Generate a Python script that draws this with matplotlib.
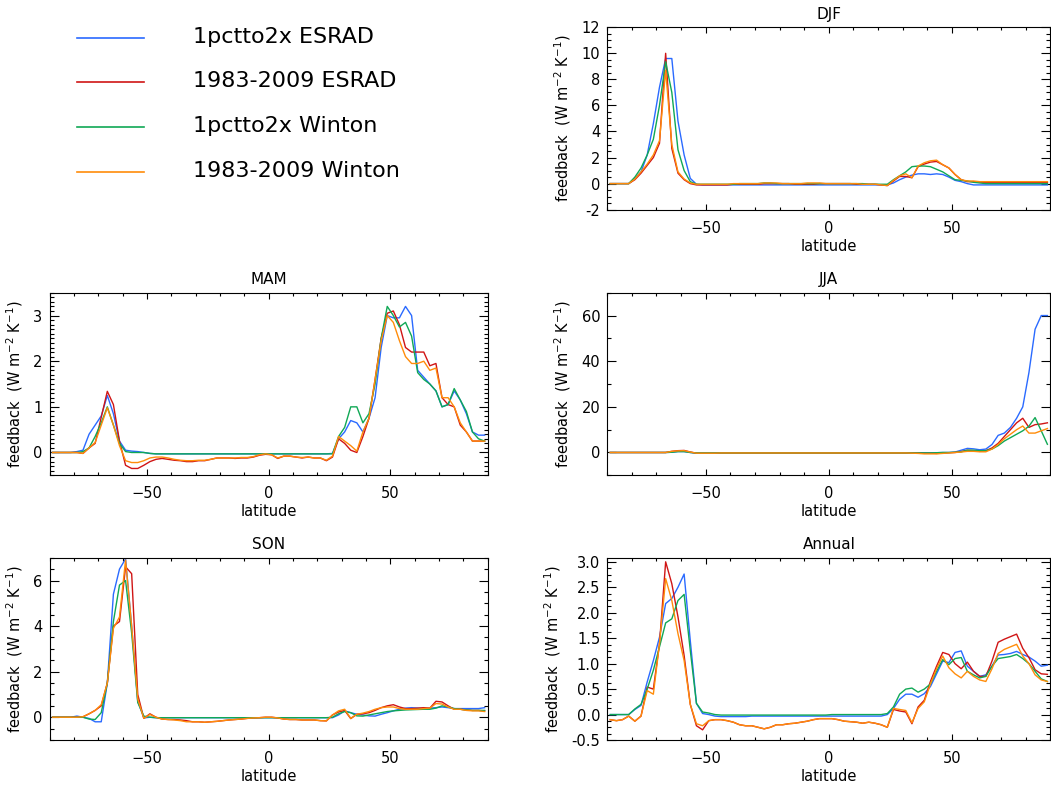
import numpy as np
import matplotlib
matplotlib.use('Agg')
import matplotlib.pyplot as plt
from matplotlib.lines import Line2D
from matplotlib.ticker import MultipleLocator, FormatStrFormatter

plt.rcParams['font.family'] = ['DejaVu Sans']
plt.rcParams['mathtext.default'] = 'regular'

# latitude grid (2.5 deg, cell centres)
lat = np.arange(-88.75, 90.0, 2.5)

labels = ['1pctto2x ESRAD', '1983-2009 ESRAD', '1pctto2x Winton', '1983-2009 Winton']
colors = ['#2a6aff', '#d01515', '#10a855', '#ff8c0a']

# ---- DJF
djf_esrad_1pct = [0, 0, 0, 0, 0.4, 0.9, 2.2, 4.6, 7.4, 9.6, 9.6, 4.8,
                  2.2, 0.4, -0.05, -0.1, -0.1, -0.1, -0.1, -0.1, -0.1, -0.1, -0.1, -0.1,
                  -0.1, -0.1, -0.1, -0.1, -0.1, -0.1, -0.1, -0.1, -0.1, -0.1, -0.1, -0.1,
                  -0.1, -0.1, -0.1, -0.1, -0.1, -0.1, -0.1, -0.1, -0.1, -0.1, 0.05, 0.3,
                  0.5, 0.65, 0.75, 0.75, 0.7, 0.75, 0.7, 0.5, 0.25, 0.15, 0.0, -0.1,
                  -0.1, -0.1, -0.1, -0.1, -0.1, -0.1, -0.1, -0.1, -0.1, -0.1, -0.1, -0.1]
djf_esrad_obs = [0, 0, 0, 0, 0.3, 0.8, 1.4, 2.0, 3.1, 10.0, 2.7, 0.8,
                 0.3, 0.0, -0.1, -0.1, -0.1, -0.1, -0.1, -0.1, -0.05, -0.05, -0.05, -0.05,
                 -0.05, 0.0, 0.0, 0.0, 0.0, 0.0, -0.05, -0.05, -0.05, -0.05, 0.0, 0.0,
                 0.0, 0.0, 0.0, 0.0, -0.05, -0.05, -0.05, -0.05, -0.1, -0.15, 0.2, 0.55,
                 0.55, 0.45, 1.3, 1.5, 1.65, 1.7, 1.45, 1.2, 0.7, 0.3, 0.15, 0.15,
                 0.1, 0.1, 0.1, 0.1, 0.1, 0.1, 0.1, 0.1, 0.1, 0.1, 0.1, 0.1]
djf_winton_1pct = [0, 0, 0, 0, 0.5, 1.2, 2.2, 3.4, 6.0, 9.35, 7.0, 2.6,
                   1.0, 0.15, -0.05, -0.05, -0.05, -0.05, -0.05, -0.05, -0.05, 0.0, 0.0, 0.0,
                   0.0, 0.05, 0.05, 0.0, 0.0, 0.0, 0.0, 0.0, 0.0, 0.0, 0.0, 0.0,
                   0.0, 0.0, 0.0, 0.0, 0.0, 0.0, -0.05, -0.05, -0.05, -0.05, 0.3, 0.6,
                   0.9, 1.3, 1.35, 1.35, 1.3, 1.1, 0.9, 0.6, 0.3, 0.25, 0.2, 0.1,
                   0.05, 0.0, 0.0, 0.0, 0.0, 0.0, 0.0, 0.0, 0.0, 0.0, 0.0, 0.0]
djf_winton_obs = [0, 0, 0, 0, 0.35, 0.9, 1.5, 2.2, 3.3, 8.7, 3.0, 0.9,
                  0.35, 0.05, -0.05, -0.05, -0.05, -0.05, -0.05, -0.05, 0.0, 0.0, 0.0, 0.0,
                  0.0, 0.05, 0.05, 0.05, 0.0, 0.0, 0.0, 0.0, 0.05, 0.05, 0.05, 0.0,
                  0.0, 0.0, 0.0, 0.0, 0.0, -0.05, -0.05, -0.05, -0.1, -0.15, 0.25, 0.6,
                  0.75, 0.45, 1.35, 1.6, 1.75, 1.8, 1.45, 1.2, 0.7, 0.3, 0.2, 0.2,
                  0.15, 0.15, 0.15, 0.15, 0.15, 0.15, 0.15, 0.15, 0.15, 0.15, 0.15, 0.15]

# ---- MAM
mam_esrad_1pct = [0, 0, 0, 0, 0.02, 0.05, 0.4, 0.6, 0.8, 1.25, 0.85, 0.25,
                  0.05, 0.03, 0.02, 0.0, -0.02, -0.03, -0.03, -0.03, -0.03, -0.03, -0.03, -0.03,
                  -0.03, -0.03, -0.03, -0.03, -0.03, -0.03, -0.03, -0.03, -0.03, -0.03, -0.03, -0.03,
                  -0.03, -0.03, -0.03, -0.03, -0.03, -0.03, -0.03, -0.03, -0.03, -0.03, -0.02, 0.3,
                  0.45, 0.7, 0.65, 0.45, 0.75, 1.2, 2.3, 3.0, 2.95, 2.95, 3.2, 3.0,
                  1.8, 1.65, 1.5, 1.35, 1.0, 1.05, 1.35, 1.15, 0.85, 0.45, 0.38, 0.38]
mam_esrad_obs = [0, 0, 0, 0, 0, -0.02, 0.1, 0.2, 0.77, 1.34, 1.05, 0.25,
                 -0.28, -0.35, -0.35, -0.28, -0.2, -0.15, -0.13, -0.15, -0.17, -0.18, -0.2, -0.2,
                 -0.18, -0.18, -0.15, -0.12, -0.12, -0.12, -0.13, -0.12, -0.12, -0.1, -0.06, -0.04,
                 -0.05, -0.13, -0.08, -0.08, -0.1, -0.12, -0.1, -0.12, -0.12, -0.18, -0.1, 0.3,
                 0.2, 0.05, 0.0, 0.35, 0.75, 1.6, 2.5, 3.05, 3.1, 2.8, 2.3, 2.2,
                 2.2, 2.2, 1.9, 1.95, 1.2, 1.05, 1.0, 0.6, 0.45, 0.25, 0.25, 0.25]
mam_winton_1pct = [0, 0, 0, 0, 0.0, 0.02, 0.1, 0.35, 0.65, 1.0, 0.6, 0.2,
                   0.02, 0.0, 0.0, 0.0, -0.02, -0.03, -0.03, -0.03, -0.03, -0.03, -0.03, -0.03,
                   -0.03, -0.03, -0.03, -0.03, -0.03, -0.03, -0.03, -0.03, -0.03, -0.03, -0.03, -0.03,
                   -0.03, -0.03, -0.03, -0.03, -0.03, -0.03, -0.03, -0.03, -0.03, -0.03, -0.03, 0.35,
                   0.55, 1.0, 1.0, 0.65, 0.85, 1.5, 2.5, 3.2, 3.0, 2.75, 2.85, 2.55,
                   1.75, 1.6, 1.5, 1.35, 1.0, 1.05, 1.4, 1.15, 0.9, 0.45, 0.3, 0.25]
mam_winton_obs = [0, 0, 0, 0, 0, -0.02, 0.1, 0.22, 0.6, 0.98, 0.6, 0.15,
                  -0.18, -0.22, -0.22, -0.18, -0.12, -0.1, -0.1, -0.12, -0.15, -0.17, -0.18, -0.18,
                  -0.17, -0.17, -0.15, -0.12, -0.12, -0.12, -0.12, -0.11, -0.11, -0.09, -0.05, -0.03,
                  -0.05, -0.12, -0.08, -0.08, -0.1, -0.11, -0.1, -0.12, -0.12, -0.17, -0.08, 0.35,
                  0.25, 0.15, 0.03, 0.45, 0.75, 1.6, 2.45, 3.0, 2.85, 2.45, 2.1, 1.95,
                  1.95, 2.0, 1.8, 1.85, 1.2, 1.2, 1.0, 0.65, 0.45, 0.25, 0.25, 0.25]

# ---- JJA
jja_esrad_1pct = [0, 0, 0, 0, 0, 0, 0, 0, 0, 0, 0.1, 0.4,
                  0.4, 0.0, -0.3, -0.3, -0.3, -0.3, -0.2, -0.2, -0.2, -0.2, -0.2, -0.2,
                  -0.2, -0.2, -0.2, -0.2, -0.2, -0.2, -0.2, -0.2, -0.2, -0.2, -0.2, -0.2,
                  -0.2, -0.2, -0.2, -0.2, -0.2, -0.2, -0.2, -0.2, -0.2, -0.2, -0.2, -0.2,
                  -0.2, -0.2, -0.2, -0.2, -0.2, -0.1, 0.0, 0.0, 0.2, 1.0, 1.8, 1.6,
                  1.2, 1.5, 3.5, 7.5, 8.5, 11.0, 15.0, 20.0, 35.0, 54.0, 60.0, 60.0]
jja_esrad_obs = [0, 0, 0, 0, 0, 0, 0, 0, 0, 0, 0.5, 0.8,
                 0.9, 0.2, -0.3, -0.3, -0.3, -0.3, -0.2, -0.2, -0.2, -0.2, -0.2, -0.2,
                 -0.2, -0.2, -0.2, -0.2, -0.2, -0.2, -0.2, -0.2, -0.2, -0.2, -0.2, -0.2,
                 -0.2, -0.2, -0.2, -0.2, -0.2, -0.2, -0.2, -0.2, -0.2, -0.2, -0.2, -0.2,
                 -0.2, -0.2, -0.2, -0.3, -0.3, -0.4, -0.3, -0.1, 0.0, 0.4, 1.0, 0.8,
                 0.5, 0.8, 2.0, 4.0, 7.0, 10.0, 13.0, 15.0, 11.0, 12.2, 12.5, 13.0]
jja_winton_1pct = [0, 0, 0, 0, 0, 0, 0, 0, 0, 0, 0.1, 0.4,
                   0.4, 0.0, -0.2, -0.2, -0.2, -0.2, -0.2, -0.2, -0.2, -0.2, -0.2, -0.2,
                   -0.2, -0.2, -0.2, -0.2, -0.2, -0.2, -0.2, -0.2, -0.2, -0.2, -0.2, -0.2,
                   -0.2, -0.2, -0.2, -0.2, -0.2, -0.2, -0.2, -0.2, -0.2, -0.2, -0.2, -0.2,
                   -0.2, -0.2, -0.2, -0.2, -0.2, -0.1, 0.0, 0.0, 0.1, 0.3, 1.0, 1.0,
                   0.8, 0.8, 1.5, 3.0, 5.0, 6.5, 8.0, 9.5, 11.5, 15.3, 9.5, 3.6]
jja_winton_obs = [0, 0, 0, 0, 0, 0, 0, 0, 0, 0, 0.5, 0.7,
                  0.8, 0.2, -0.3, -0.3, -0.3, -0.3, -0.2, -0.2, -0.2, -0.2, -0.2, -0.2,
                  -0.2, -0.2, -0.2, -0.2, -0.2, -0.2, -0.2, -0.2, -0.2, -0.2, -0.2, -0.2,
                  -0.2, -0.2, -0.2, -0.2, -0.2, -0.2, -0.2, -0.2, -0.2, -0.2, -0.2, -0.2,
                  -0.2, -0.3, -0.4, -0.6, -0.6, -0.6, -0.4, -0.2, 0.0, 0.2, 0.5, 0.5,
                  0.3, 0.3, 1.5, 3.5, 6.0, 8.0, 10.0, 11.6, 8.5, 8.5, 9.5, 10.5]

# ---- SON
son_esrad_1pct = [0, 0, 0, 0, 0.05, 0.0, -0.05, -0.2, -0.2, 1.5, 5.4, 6.5,
                  6.95, 4.0, 0.7, -0.03, 0.0, -0.02, -0.02, -0.02, -0.02, -0.02, -0.02, -0.02,
                  -0.02, -0.02, -0.02, -0.02, -0.02, -0.02, -0.02, -0.02, -0.02, -0.02, -0.02, -0.02,
                  -0.02, -0.02, -0.02, -0.02, -0.02, -0.02, -0.02, -0.02, -0.02, -0.02, -0.02, 0.1,
                  0.28, 0.2, 0.13, 0.1, 0.06, 0.05, 0.13, 0.2, 0.28, 0.35, 0.4, 0.42,
                  0.4, 0.38, 0.4, 0.42, 0.45, 0.42, 0.38, 0.38, 0.38, 0.38, 0.38, 0.42]
son_esrad_obs = [0, 0, 0, 0, 0.0, 0.02, 0.15, 0.3, 0.5, 1.5, 4.0, 4.2,
                 6.6, 6.3, 1.0, -0.05, 0.15, 0.0, -0.08, -0.1, -0.1, -0.12, -0.15, -0.2,
                 -0.2, -0.22, -0.2, -0.18, -0.15, -0.12, -0.1, -0.08, -0.05, -0.03, -0.02, 0.0,
                 0.0, -0.03, -0.08, -0.1, -0.1, -0.12, -0.12, -0.12, -0.15, -0.16, 0.1, 0.23,
                 0.3, -0.06, 0.13, 0.15, 0.2, 0.3, 0.42, 0.5, 0.55, 0.45, 0.38, 0.38,
                 0.4, 0.42, 0.4, 0.7, 0.67, 0.5, 0.35, 0.35, 0.32, 0.3, 0.3, 0.28]
son_winton_1pct = [0, 0, 0, 0, 0, 0, -0.08, -0.1, 0.2, 1.5, 4.2, 5.8,
                   6.0, 3.7, 0.65, 0.05, 0.0, -0.02, -0.02, -0.02, -0.02, -0.02, -0.02, -0.02,
                   -0.02, -0.02, -0.02, -0.02, -0.02, -0.02, -0.02, -0.02, -0.02, -0.02, -0.02, -0.02,
                   -0.02, -0.02, -0.02, -0.02, -0.02, -0.02, -0.02, -0.02, -0.02, -0.02, 0.0, 0.15,
                   0.25, 0.2, 0.06, 0.05, 0.1, 0.15, 0.2, 0.25, 0.28, 0.3, 0.32, 0.33,
                   0.34, 0.35, 0.35, 0.4, 0.5, 0.45, 0.38, 0.35, 0.32, 0.3, 0.3, 0.3]
son_winton_obs = [0, 0, 0, 0, 0.0, 0.02, 0.15, 0.3, 0.55, 1.5, 3.9, 4.4,
                  6.9, 4.0, 0.8, -0.05, 0.12, 0.0, -0.08, -0.1, -0.12, -0.15, -0.2, -0.2,
                  -0.2, -0.22, -0.2, -0.18, -0.15, -0.12, -0.1, -0.08, -0.05, -0.03, -0.02, 0.0,
                  0.0, -0.03, -0.08, -0.1, -0.1, -0.12, -0.12, -0.12, -0.15, -0.16, 0.1, 0.28,
                  0.35, -0.05, 0.13, 0.18, 0.25, 0.35, 0.42, 0.45, 0.45, 0.38, 0.35, 0.35,
                  0.35, 0.38, 0.4, 0.6, 0.58, 0.45, 0.35, 0.35, 0.3, 0.28, 0.28, 0.25]

# ---- Annual
ann_esrad_1pct = [0, 0, 0, 0, 0.1, 0.18, 0.64, 1.06, 1.52, 2.18, 2.28, 2.5,
                  2.76, 1.45, 0.22, 0.02, 0.0, -0.03, -0.04, -0.04, -0.04, -0.04, -0.04, -0.03,
                  -0.03, -0.03, -0.03, -0.03, -0.03, -0.03, -0.03, -0.03, -0.03, -0.03, -0.03, -0.03,
                  -0.03, -0.03, -0.03, -0.03, -0.03, -0.03, -0.03, -0.03, -0.03, 0.0, 0.12, 0.3,
                  0.4, 0.4, 0.34, 0.41, 0.55, 0.8, 1.05, 1.02, 1.22, 1.25, 0.95, 0.85,
                  0.75, 0.78, 0.95, 1.17, 1.18, 1.2, 1.24, 1.18, 1.13, 1.05, 0.95, 0.97]
ann_esrad_obs = [-0.1, -0.12, -0.1, -0.03, -0.13, -0.03, 0.54, 0.5, 1.39, 3.0, 2.57, 1.92,
                 1.16, 0.2, -0.22, -0.3, -0.12, -0.1, -0.1, -0.12, -0.15, -0.2, -0.22, -0.22,
                 -0.25, -0.28, -0.25, -0.2, -0.2, -0.18, -0.17, -0.15, -0.13, -0.1, -0.08, -0.08,
                 -0.08, -0.1, -0.13, -0.14, -0.15, -0.17, -0.15, -0.17, -0.2, -0.25, 0.1, 0.07,
                 0.05, -0.18, 0.15, 0.28, 0.65, 0.95, 1.22, 1.18, 1.0, 0.9, 1.03, 0.85,
                 0.75, 0.75, 1.05, 1.42, 1.48, 1.53, 1.58, 1.3, 1.12, 0.88, 0.8, 0.79]
ann_winton_1pct = [0, 0, 0, 0, 0.11, 0.2, 0.5, 0.87, 1.33, 1.8, 1.88, 2.24,
                   2.36, 1.26, 0.22, 0.05, 0.03, 0.0, -0.01, -0.01, -0.01, -0.01, -0.01, -0.01,
                   -0.01, -0.01, -0.01, -0.01, -0.01, -0.01, -0.01, -0.01, -0.01, -0.01, -0.01, -0.01,
                   0.0, 0.0, 0.0, 0.0, 0.0, 0.0, 0.0, 0.0, 0.0, 0.02, 0.15, 0.4,
                   0.5, 0.52, 0.44, 0.5, 0.6, 0.85, 1.08, 0.98, 1.1, 1.12, 0.85, 0.78,
                   0.72, 0.75, 0.95, 1.1, 1.12, 1.14, 1.18, 1.1, 1.0, 0.85, 0.7, 0.65]
ann_winton_obs = [-0.1, -0.12, -0.1, -0.03, -0.13, -0.03, 0.47, 0.4, 1.39, 2.67, 2.24, 1.59,
                  1.06, 0.2, -0.18, -0.22, -0.12, -0.1, -0.1, -0.12, -0.15, -0.2, -0.22, -0.22,
                  -0.25, -0.28, -0.25, -0.2, -0.2, -0.18, -0.17, -0.15, -0.13, -0.1, -0.08, -0.08,
                  -0.08, -0.1, -0.13, -0.14, -0.15, -0.17, -0.15, -0.17, -0.2, -0.25, 0.12, 0.1,
                  0.08, -0.16, 0.12, 0.25, 0.6, 0.9, 1.15, 0.92, 0.8, 0.72, 0.85, 0.75,
                  0.68, 0.65, 0.9, 1.2, 1.28, 1.33, 1.38, 1.15, 1.0, 0.78, 0.68, 0.65]

panels = [
    ('DJF', [djf_esrad_1pct, djf_esrad_obs, djf_winton_1pct, djf_winton_obs],
     [0.5777, 0.7329, 0.4218, 0.2324], (-2, 12), 2, 0.5, '%d'),
    ('MAM', [mam_esrad_1pct, mam_esrad_obs, mam_winton_1pct, mam_winton_obs],
     [0.0471, 0.3945, 0.4169, 0.2326], (-0.5, 3.5), 1, 0.1, '%d'),
    ('JJA', [jja_esrad_1pct, jja_esrad_obs, jja_winton_1pct, jja_winton_obs],
     [0.5777, 0.3945, 0.4218, 0.2326], (-10, 70), 20, 10, '%d'),
    ('SON', [son_esrad_1pct, son_esrad_obs, son_winton_1pct, son_winton_obs],
     [0.0471, 0.0573, 0.4169, 0.2322], (-1, 7), 2, 0.5, '%d'),
    ('Annual', [ann_esrad_1pct, ann_esrad_obs, ann_winton_1pct, ann_winton_obs],
     [0.5777, 0.0573, 0.4218, 0.2322], (-0.5, 3.08), 0.5, 0.125, '%.1f'),
]

fig = plt.figure(figsize=(10.51, 7.85), dpi=100)

for title, series, pos, ylim, major, minor, fmt in panels:
    ax = fig.add_axes(pos)
    for s, c in zip(series, colors):
        ax.plot(lat, s, color=c, lw=1.0)
    ax.set_xlim(-90, 90)
    ax.set_ylim(*ylim)
    ax.xaxis.set_major_locator(MultipleLocator(50))
    ax.xaxis.set_minor_locator(MultipleLocator(10))
    ax.yaxis.set_major_locator(MultipleLocator(major))
    ax.yaxis.set_minor_locator(MultipleLocator(minor))
    ax.yaxis.set_major_formatter(FormatStrFormatter(fmt))
    ax.tick_params(axis='both', which='both', direction='in', top=True, right=True,
                   labelsize=10.5, width=0.8, colors='black')
    ax.tick_params(axis='x', which='major', length=4, pad=8)
    ax.tick_params(axis='x', which='minor', length=2.5)
    ax.tick_params(axis='y', which='major', length=6.2, pad=5)
    ax.tick_params(axis='y', which='minor', length=3.1)
    for sp in ax.spines.values():
        sp.set_linewidth(0.8)
    ax.set_title(title, fontsize=11, pad=6)
    ax.set_xlabel('latitude', fontsize=10.5, labelpad=2)
    ax.set_ylabel('feedback  (W m$^{-2}$ K$^{-1}$)', fontsize=10.5, labelpad=6)

# legend in the empty top-left slot
line_y = [37.7, 82.3, 126.7, 172.0]
for lab, c, yp in zip(labels, colors, line_y):
    fy = 1 - yp / 785
    fig.add_artist(Line2D([77 / 1051, 144 / 1051], [fy, fy], color=c, lw=1.2,
                          transform=fig.transFigure))
    fig.text(192.7 / 1051, 1 - (yp + 5) / 785, lab, fontsize=16, va='baseline', ha='left')

fig.savefig('out.png', dpi=100)
